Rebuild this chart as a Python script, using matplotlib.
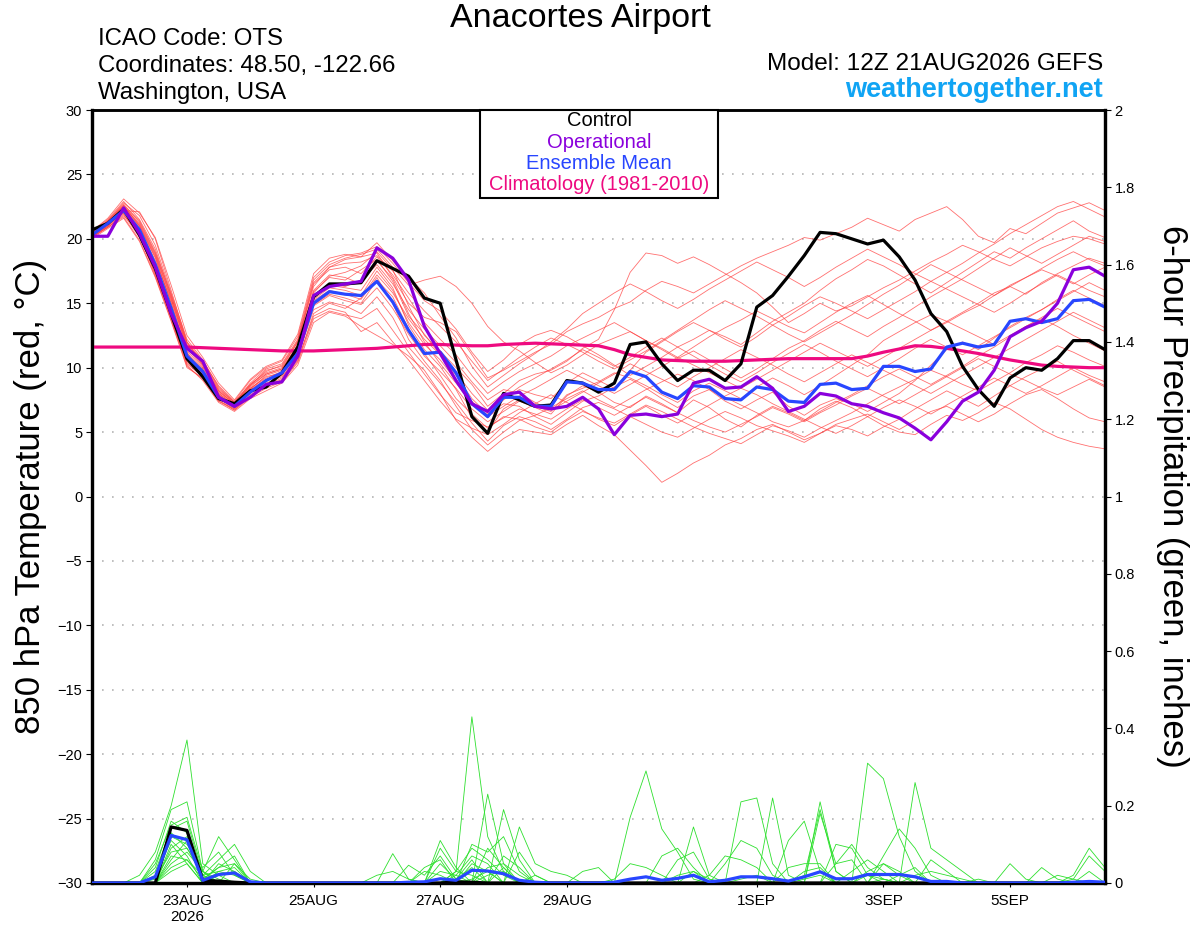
import numpy as np
import matplotlib
matplotlib.use('Agg')
import matplotlib.pyplot as plt
import matplotlib.dates as mdates
from matplotlib.patches import Rectangle

plt.rcParams['font.family'] = ['Liberation Sans', 'DejaVu Sans']

# 6-hourly steps from 12Z 21AUG2026 to 12Z 06SEP2026 (65 steps)
start = np.datetime64('2026-08-21T12:00')
nstep = 65

tick_dates = ['2026-08-23', '2026-08-25', '2026-08-27', '2026-08-29',
              '2026-09-01', '2026-09-03', '2026-09-05']
tick_labels = ['23AUG\n2026', '25AUG', '27AUG', '29AUG', '1SEP', '3SEP', '5SEP']

# 850 hPa temperature (C)
control = [20.7, 21.2, 22.3, 20.3, 17.7, 14.2, 10.7, 9.3, 7.6, 7.2, 8.2, 8.5,
           9.6, 11.6, 15.5, 16.5, 16.5, 16.6, 18.3, 17.7, 17.1, 15.4, 15.0, 10.6,
           6.2, 4.9, 8.0, 7.5, 7.0, 7.1, 9.0, 8.8, 8.1, 8.8, 11.8, 12.0,
           10.3, 9.0, 9.8, 9.8, 9.0, 10.3, 14.7, 15.6, 17.1, 18.7, 20.5, 20.4,
           20.0, 19.6, 19.9, 18.6, 16.8, 14.2, 12.8, 10.1, 8.3, 7.0, 9.2, 10.0,
           9.8, 10.7, 12.1, 12.1, 11.4]
operational = [20.2, 20.2, 22.4, 20.4, 17.8, 14.2, 11.5, 10.5, 7.7, 7.0, 7.7, 8.7,
               8.9, 10.9, 15.6, 16.3, 16.5, 16.7, 19.3, 18.5, 16.8, 13.2, 11.1, 9.0,
               7.2, 6.6, 7.9, 8.1, 7.0, 6.8, 7.0, 7.7, 6.8, 4.8, 6.3, 6.4,
               6.2, 6.4, 8.8, 9.1, 8.4, 8.5, 9.3, 8.4, 6.6, 7.0, 8.0, 7.8,
               7.2, 7.0, 6.5, 6.1, 5.3, 4.4, 5.8, 7.4, 8.1, 9.8, 12.4, 13.1,
               13.6, 15.0, 17.6, 17.8, 17.1]
ens_mean = [20.3, 21.2, 22.2, 20.7, 18.0, 14.6, 10.9, 9.7, 7.7, 7.0, 8.1, 9.0,
            9.6, 11.1, 15.0, 15.9, 15.7, 15.6, 16.7, 15.1, 12.9, 11.1, 11.2, 9.6,
            7.2, 6.2, 7.7, 7.7, 7.0, 7.0, 8.9, 8.8, 8.3, 8.3, 9.7, 9.3,
            8.1, 7.6, 8.6, 8.5, 7.6, 7.5, 8.5, 8.3, 7.4, 7.3, 8.7, 8.8,
            8.3, 8.4, 10.1, 10.1, 9.7, 9.9, 11.6, 11.9, 11.6, 11.8, 13.6, 13.8,
            13.5, 13.8, 15.2, 15.3, 14.7]
climatology = [11.6, 11.6, 11.6, 11.6, 11.6, 11.6, 11.6, 11.55, 11.5, 11.45, 11.4, 11.35,
               11.3, 11.3, 11.3, 11.35, 11.4, 11.45, 11.5, 11.6, 11.7, 11.8, 11.8, 11.75,
               11.7, 11.7, 11.8, 11.85, 11.9, 11.85, 11.8, 11.75, 11.7, 11.4, 11.0, 10.8,
               10.6, 10.55, 10.5, 10.5, 10.5, 10.55, 10.6, 10.65, 10.7, 10.7, 10.7, 10.7,
               10.7, 10.9, 11.2, 11.45, 11.7, 11.65, 11.5, 11.3, 11.1, 10.85, 10.6, 10.4,
               10.2, 10.1, 10.05, 10.0, 10.0]

t_m01 = [20.4, 21.3, 22.6, 21.0, 18.5, 15.0, 11.2, 9.5, 7.6, 6.9, 8.3, 9.4,
         9.8, 11.6, 15.8, 17.1, 17.4, 17.9, 19.0, 17.6, 14.8, 12.5, 11.3, 10.0,
         8.7, 7.0, 8.0, 9.0, 9.5, 9.8, 10.5, 11.5, 12.2, 14.5, 17.4, 18.9,
         18.7, 18.1, 18.6, 18.0, 17.3, 16.6, 15.8, 14.7, 13.5, 14.2, 15.0, 14.4,
         14.8, 15.5, 16.2, 16.8, 17.5, 18.2, 18.8, 19.5, 19.0, 18.4, 17.9, 18.6,
         19.3, 19.8, 20.2, 20.0, 19.6]
t_m02 = [20.1, 21.0, 22.2, 22.1, 20.0, 16.0, 12.0, 10.2, 8.2, 7.2, 8.6, 9.8,
         10.1, 12.0, 16.3, 17.8, 18.4, 18.6, 18.9, 17.0, 15.0, 13.9, 13.5, 12.8,
         11.0, 9.2, 9.8, 10.5, 11.2, 11.8, 12.8, 13.4, 13.9, 14.6, 15.1, 16.0,
         16.7, 16.3, 15.8, 16.5, 17.2, 17.9, 18.5, 19.0, 19.5, 20.1, 19.9, 20.4,
         20.9, 21.6, 21.1, 20.6, 21.5, 22.0, 22.5, 21.5, 20.2, 19.7, 20.8, 20.4,
         21.2, 22.0, 22.4, 22.8, 22.2]
t_m03 = [20.5, 21.1, 22.0, 20.3, 17.2, 13.8, 10.2, 9.0, 7.3, 6.6, 7.6, 8.2,
         8.8, 10.2, 13.5, 14.3, 14.0, 13.2, 12.5, 11.8, 10.9, 9.8, 8.0, 5.9,
         4.6, 3.5, 4.5, 5.2, 5.0, 4.8, 5.6, 6.3, 5.5, 4.8, 3.6, 2.4,
         1.1, 1.8, 2.6, 3.2, 4.0, 4.5, 5.2, 5.6, 5.0, 4.4, 4.9, 5.6,
         6.0, 6.4, 5.8, 5.2, 5.9, 6.6, 7.0, 6.4, 5.8, 6.4, 7.2, 7.9,
         8.3, 7.6, 6.8, 6.1, 5.8]
t_m04 = [20.2, 20.9, 21.8, 20.5, 17.8, 14.4, 10.8, 9.6, 7.8, 7.0, 8.0, 8.8,
         9.3, 10.8, 14.8, 15.6, 15.2, 14.9, 16.2, 14.6, 12.6, 10.9, 9.7, 8.4,
         6.8, 5.8, 6.6, 7.4, 6.9, 6.4, 7.8, 8.6, 8.1, 7.3, 6.9, 7.8,
         7.2, 6.5, 7.5, 6.9, 6.0, 5.4, 6.3, 7.0, 6.5, 5.9, 6.8, 7.4,
         6.9, 6.2, 5.5, 5.0, 4.8, 5.6, 6.3, 5.9, 6.5, 7.3, 6.8, 6.0,
         5.2, 4.6, 4.2, 3.9, 3.7]
t_m05 = [20.6, 21.5, 22.9, 21.5, 19.2, 15.6, 11.8, 10.5, 8.6, 7.4, 9.0, 10.0,
         10.5, 12.4, 17.0, 18.2, 18.7, 18.9, 19.4, 18.1, 16.6, 15.2, 14.4, 13.0,
         11.2, 9.7, 10.6, 11.8, 12.5, 12.9, 12.4, 11.7, 11.0, 10.2, 9.4, 10.1,
         10.8, 11.6, 12.2, 12.9, 12.4, 11.8, 12.7, 13.6, 14.3, 15.0, 16.0, 16.9,
         17.6, 18.4, 17.9, 17.2, 16.5, 15.8, 16.6, 17.4, 18.2, 19.0, 18.5, 19.3,
         20.0, 20.7, 21.4, 20.6, 20.1]
t_m06 = [20.3, 21.2, 22.4, 20.9, 18.3, 15.2, 11.5, 10.1, 8.0, 7.1, 8.4, 9.3,
         9.6, 11.4, 15.5, 16.4, 16.2, 16.0, 17.8, 16.2, 13.3, 11.4, 10.1, 8.3,
         6.1, 5.0, 6.8, 7.5, 7.0, 6.6, 7.9, 8.4, 8.9, 9.6, 9.2, 8.6,
         7.9, 7.3, 8.2, 8.8, 8.2, 7.6, 8.5, 9.2, 8.6, 7.9, 8.6, 9.4,
         10.2, 11.0, 12.1, 12.8, 13.5, 14.1, 13.6, 14.3, 15.0, 15.8, 16.3, 15.7,
         16.6, 17.3, 17.9, 18.5, 18.1]
t_m07 = [20.0, 20.8, 21.6, 19.8, 17.0, 13.6, 10.0, 9.2, 7.4, 6.8, 8.1, 8.7,
         9.0, 10.5, 14.2, 15.0, 14.6, 15.4, 17.2, 15.8, 13.8, 12.2, 11.0, 9.4,
         7.6, 6.4, 7.2, 7.0, 6.2, 5.6, 6.5, 7.4, 7.8, 8.5, 9.1, 8.4,
         7.6, 6.9, 7.8, 8.3, 7.4, 6.8, 7.5, 8.1, 7.0, 6.3, 7.1, 7.6,
         7.2, 6.6, 7.3, 8.0, 9.0, 10.2, 11.4, 12.0, 11.4, 12.3, 13.2, 13.9,
         14.5, 15.3, 16.0, 15.4, 14.8]
t_m08 = [20.4, 21.4, 22.8, 21.8, 19.5, 15.8, 12.2, 10.6, 8.5, 7.3, 8.8, 9.9,
         10.3, 12.2, 16.8, 18.0, 18.5, 18.8, 19.2, 17.8, 16.4, 16.8, 17.1, 16.3,
         15.0, 13.2, 12.0, 11.3, 10.4, 9.6, 10.2, 11.0, 11.8, 12.3, 12.8, 12.1,
         11.5, 10.8, 11.6, 12.4, 13.1, 13.7, 14.4, 13.8, 13.2, 12.7, 13.5, 14.3,
         15.0, 15.6, 14.9, 14.2, 13.6, 12.9, 13.5, 14.2, 14.8, 15.6, 16.4, 17.0,
         17.6, 17.1, 16.5, 17.2, 17.8]
t_m09 = [20.2, 21.0, 22.1, 20.4, 17.5, 14.0, 10.5, 9.4, 7.5, 6.7, 7.9, 8.6,
         9.2, 10.9, 14.5, 15.1, 14.8, 14.2, 15.5, 13.9, 11.6, 10.2, 8.8, 7.3,
         5.7, 4.3, 5.5, 6.2, 5.8, 5.2, 6.0, 6.9, 7.3, 6.8, 6.2, 5.6,
         5.0, 4.6, 5.3, 6.0, 6.6, 6.1, 5.5, 5.1, 4.7, 4.2, 4.9, 5.5,
         5.2, 4.7, 5.4, 6.0, 6.8, 7.5, 8.2, 7.6, 7.0, 7.8, 8.6, 9.3,
         9.9, 10.5, 9.8, 9.2, 8.6]
t_m10 = [20.3, 21.3, 22.5, 21.2, 18.8, 15.4, 11.6, 10.2, 8.1, 7.2, 8.5, 9.5,
         9.9, 11.8, 16.0, 17.2, 17.0, 16.5, 18.3, 16.9, 14.2, 12.0, 10.3, 8.8,
         7.2, 6.1, 7.5, 8.3, 7.9, 7.6, 8.8, 9.6, 9.0, 8.4, 9.8, 11.2,
         12.0, 12.8, 13.5, 12.9, 12.2, 11.6, 12.4, 13.3, 14.0, 14.8, 15.5, 15.0,
         14.4, 13.8, 14.5, 15.2, 15.9, 16.7, 16.1, 15.5, 14.9, 14.3, 15.0, 15.8,
         16.5, 17.2, 16.6, 16.0, 15.5]
t_m11 = [20.1, 20.9, 21.9, 20.1, 17.4, 14.0, 10.3, 9.3, 7.6, 6.9, 8.2, 9.0,
         9.4, 11.0, 14.9, 15.7, 15.4, 15.0, 16.8, 15.5, 13.0, 11.1, 9.4, 7.6,
         6.4, 5.3, 6.2, 6.0, 5.4, 5.0, 5.9, 6.6, 6.1, 5.7, 6.4, 7.1,
         6.6, 6.0, 5.4, 4.9, 4.5, 4.1, 4.8, 5.5, 5.1, 4.6, 5.3, 5.9,
         6.5, 7.2, 7.9, 8.5, 9.1, 9.8, 9.3, 8.7, 8.2, 8.9, 9.6, 10.4,
         11.0, 11.7, 11.2, 10.6, 10.1]
t_m12 = [20.5, 21.4, 22.7, 21.3, 18.9, 15.5, 11.9, 10.4, 8.3, 7.3, 8.7, 9.6,
         10.0, 12.0, 16.5, 17.6, 17.8, 17.3, 18.6, 17.2, 15.4, 13.5, 12.2, 11.0,
         9.4, 8.0, 8.9, 9.7, 10.3, 10.9, 11.7, 12.3, 12.9, 13.5, 12.8, 12.1,
         11.4, 10.7, 11.3, 10.6, 9.9, 9.2, 9.9, 10.7, 11.5, 12.1, 12.9, 13.6,
         13.0, 12.4, 13.2, 13.9, 14.7, 15.5, 16.2, 16.9, 17.7, 18.5, 19.3, 18.7,
         18.1, 18.8, 19.5, 20.2, 19.8]
t_m13 = [20.2, 21.1, 22.3, 20.6, 17.9, 14.6, 11.0, 9.8, 7.9, 7.0, 8.2, 9.1,
         9.5, 11.2, 15.2, 16.0, 15.7, 15.3, 17.0, 15.0, 12.2, 10.5, 9.0, 7.0,
         5.2, 4.0, 5.0, 5.9, 6.3, 6.9, 7.6, 8.2, 7.5, 6.9, 7.6, 8.3,
         8.9, 9.5, 9.0, 8.3, 7.7, 7.1, 6.5, 5.8, 5.4, 5.9, 6.6, 7.3,
         7.9, 8.6, 9.3, 9.9, 9.3, 8.7, 9.4, 10.1, 10.9, 11.6, 12.4, 13.2,
         13.8, 13.2, 12.5, 11.9, 11.3]
t_m14 = [20.4, 21.2, 22.4, 21.0, 18.6, 15.0, 11.3, 10.0, 8.0, 7.1, 8.4, 9.2,
         9.7, 11.4, 15.6, 16.5, 16.3, 16.8, 18.0, 16.5, 14.5, 13.0, 11.7, 10.4,
         8.9, 7.5, 8.3, 8.0, 7.3, 6.7, 7.4, 8.1, 8.8, 9.5, 10.3, 9.7,
         9.1, 8.5, 9.3, 10.0, 10.7, 11.4, 10.8, 10.2, 9.5, 8.9, 9.6, 10.3,
         11.0, 10.4, 9.8, 9.2, 8.6, 8.0, 8.7, 9.4, 10.1, 10.8, 11.5, 12.2,
         12.9, 13.6, 14.3, 13.7, 13.1]
t_m15 = [20.3, 21.0, 22.0, 20.2, 17.3, 13.9, 10.4, 9.3, 7.6, 6.8, 7.8, 8.5,
         9.1, 10.6, 14.0, 14.6, 14.3, 12.8, 13.5, 12.0, 10.6, 9.0, 7.4, 6.0,
         5.3, 4.8, 5.6, 6.5, 7.2, 7.9, 7.3, 6.7, 6.0, 5.5, 6.3, 7.0,
         6.3, 5.7, 6.4, 7.1, 7.8, 8.4, 7.9, 7.2, 6.6, 6.0, 5.4, 4.9,
         5.5, 6.2, 6.9, 7.5, 7.0, 6.4, 7.1, 7.8, 8.5, 9.2, 8.6, 8.0,
         8.6, 9.3, 10.0, 9.4, 8.9]
t_m16 = [20.6, 21.6, 23.1, 22.0, 20.1, 16.4, 12.5, 10.8, 8.8, 7.5, 9.1, 10.1,
         10.6, 12.6, 17.3, 18.5, 18.8, 18.6, 19.7, 18.3, 17.0, 15.8, 14.0, 12.3,
         10.1, 8.5, 9.4, 10.3, 11.1, 12.0, 13.0, 14.2, 15.0, 15.8, 16.5, 15.9,
         15.2, 14.6, 15.3, 16.1, 16.8, 17.5, 18.2, 17.6, 17.0, 16.3, 17.0, 17.8,
         18.5, 19.2, 18.6, 18.0, 17.3, 16.7, 17.4, 18.1, 18.9, 19.6, 20.4, 21.1,
         21.8, 22.5, 22.9, 22.3, 21.7]
t_m17 = [20.2, 21.1, 22.2, 20.7, 18.0, 14.7, 11.1, 9.9, 7.9, 7.0, 8.3, 9.1,
         9.5, 11.3, 15.3, 16.2, 16.0, 15.6, 17.5, 16.0, 13.5, 11.8, 10.6, 9.0,
         7.4, 6.2, 7.0, 7.8, 8.4, 9.1, 9.8, 9.2, 8.6, 8.0, 8.7, 9.4,
         10.1, 10.8, 10.2, 9.6, 9.0, 8.4, 9.1, 9.8, 10.5, 11.2, 11.9, 11.3,
         10.7, 10.1, 10.8, 11.5, 12.2, 12.9, 13.6, 13.0, 12.4, 11.8, 12.5, 13.2,
         13.9, 14.6, 14.0, 13.4, 12.8]
t_m18 = [20.4, 21.3, 22.5, 21.1, 18.7, 15.3, 11.7, 10.3, 8.2, 7.2, 8.6, 9.5,
         9.9, 11.7, 15.9, 17.0, 16.8, 17.6, 18.4, 16.7, 14.0, 12.6, 11.0, 9.6,
         8.0, 6.7, 7.6, 8.5, 9.2, 9.9, 10.6, 11.4, 10.8, 10.1, 10.8, 11.6,
         12.3, 11.6, 10.9, 10.2, 9.5, 8.9, 9.6, 10.4, 11.1, 11.8, 11.2, 10.5,
         9.9, 9.3, 10.0, 10.7, 11.5, 12.2, 11.6, 11.0, 11.7, 12.4, 13.1, 13.8,
         14.5, 15.2, 15.9, 16.6, 16.0]
t_m19 = [20.1, 20.9, 21.7, 19.9, 17.1, 13.7, 10.1, 9.1, 7.4, 6.7, 7.7, 8.4,
         8.9, 10.4, 13.8, 14.4, 14.1, 13.8, 14.6, 12.9, 11.2, 9.5, 7.9, 6.5,
         5.9, 5.4, 6.1, 6.8, 6.4, 6.0, 6.8, 7.5, 6.9, 6.3, 7.0, 7.7,
         7.1, 6.5, 5.9, 5.4, 5.0, 5.6, 6.2, 6.9, 6.4, 5.8, 6.5, 7.1,
         7.8, 8.4, 7.8, 7.2, 7.9, 8.6, 9.3, 10.0, 10.7, 10.1, 9.5, 9.0,
         8.4, 7.9, 8.5, 9.1, 8.5]
t_m20 = [20.5, 21.4, 22.6, 21.4, 19.0, 15.7, 12.0, 10.5, 8.4, 7.3, 8.7, 9.7,
         10.2, 12.1, 16.6, 17.8, 18.1, 18.2, 18.7, 17.5, 15.8, 14.4, 13.2, 12.0,
         10.5, 9.0, 9.9, 10.8, 11.6, 12.3, 11.8, 11.2, 10.5, 9.9, 10.6, 11.3,
         12.1, 12.9, 13.7, 14.5, 15.2, 14.6, 14.0, 13.3, 12.6, 12.0, 12.7, 13.4,
         14.1, 14.9, 15.7, 16.4, 17.2, 18.0, 17.4, 16.8, 16.2, 15.6, 16.3, 17.0,
         17.7, 18.4, 19.0, 18.4, 17.9]
temp_members = [t_m01, t_m02, t_m03, t_m04, t_m05, t_m06, t_m07, t_m08, t_m09, t_m10,
                t_m11, t_m12, t_m13, t_m14, t_m15, t_m16, t_m17, t_m18, t_m19, t_m20]

# 6-hour precipitation (inches), {step index: amount}, zero elsewhere
p_control = {5: 0.145, 6: 0.136, 7: 0.007, 8: 0.005, 9: 0.002, 23: 0.003, 24: 0.002}
p_mean = {4: 0.016, 5: 0.123, 6: 0.112, 7: 0.007, 8: 0.022, 9: 0.026, 10: 0.003,
          20: 0.002, 21: 0.003, 22: 0.011, 23: 0.007, 24: 0.033, 25: 0.031, 26: 0.024,
          27: 0.007, 28: 0.002, 33: 0.002, 34: 0.010, 35: 0.016, 36: 0.007, 37: 0.012,
          38: 0.020, 39: 0.003, 40: 0.007, 41: 0.016, 42: 0.016, 43: 0.011, 44: 0.005,
          45: 0.016, 46: 0.029, 47: 0.011, 48: 0.011, 49: 0.022, 50: 0.022, 51: 0.022,
          52: 0.016, 53: 0.004, 54: 0.004, 62: 0.002, 63: 0.004, 64: 0.002}
p_m01 = {3: 0.02, 4: 0.08, 5: 0.20, 6: 0.37, 7: 0.05, 8: 0.02, 23: 0.03, 24: 0.43,
         25: 0.12, 26: 0.03, 34: 0.17, 35: 0.29, 36: 0.14, 37: 0.08, 38: 0.01}
p_m02 = {4: 0.06, 5: 0.19, 6: 0.21, 7: 0.03, 8: 0.12, 9: 0.06, 22: 0.11, 23: 0.04,
         25: 0.23, 26: 0.05, 41: 0.21, 42: 0.22, 43: 0.05, 49: 0.31, 50: 0.27,
         51: 0.12, 52: 0.03}
p_m03 = {4: 0.03, 5: 0.14, 6: 0.16, 7: 0.02, 8: 0.06, 9: 0.10, 10: 0.03, 19: 0.076,
         20: 0.01, 26: 0.19, 27: 0.06, 44: 0.11, 45: 0.16, 46: 0.03, 52: 0.26,
         53: 0.09, 54: 0.06, 55: 0.03}
p_m04 = {5: 0.12, 6: 0.10, 7: 0.04, 8: 0.08, 9: 0.02, 20: 0.046, 21: 0.02, 22: 0.07,
         23: 0.01, 27: 0.145, 28: 0.05, 29: 0.03, 30: 0.02, 38: 0.145, 39: 0.02,
         46: 0.21, 47: 0.03}
p_m05 = {5: 0.09, 6: 0.12, 7: 0.01, 8: 0.04, 9: 0.07, 22: 0.09, 23: 0.03, 24: 0.09,
         25: 0.06, 26: 0.02, 43: 0.22, 44: 0.02, 50: 0.07, 51: 0.14, 52: 0.09, 53: 0.02}
p_m06 = {4: 0.01, 5: 0.08, 6: 0.09, 7: 0.03, 21: 0.04, 22: 0.06, 24: 0.10, 25: 0.08,
         26: 0.12, 27: 0.03, 36: 0.07, 37: 0.09, 38: 0.04, 47: 0.10, 48: 0.09,
         49: 0.02, 58: 0.05, 59: 0.01}
p_m07 = {5: 0.07, 6: 0.06, 7: 0.02, 8: 0.03, 9: 0.04, 23: 0.02, 24: 0.07, 25: 0.05,
         28: 0.02, 31: 0.03, 32: 0.04, 37: 0.06, 38: 0.08, 39: 0.01, 46: 0.18,
         47: 0.05, 48: 0.06, 62: 0.02, 63: 0.09, 64: 0.04}
p_m08 = {4: 0.02, 5: 0.11, 6: 0.07, 8: 0.05, 9: 0.03, 25: 0.09, 26: 0.04, 40: 0.05,
         41: 0.11, 42: 0.09, 43: 0.02, 50: 0.05, 51: 0.03, 61: 0.02, 62: 0.01,
         63: 0.07, 64: 0.03}
p_m09 = {5: 0.05, 6: 0.08, 7: 0.03, 9: 0.05, 23: 0.03, 24: 0.02, 26: 0.07, 27: 0.04,
         44: 0.04, 45: 0.05, 46: 0.05, 48: 0.03, 49: 0.06, 50: 0.03, 53: 0.06,
         54: 0.03, 60: 0.04, 61: 0.01}
p_m10 = {4: 0.04, 5: 0.16, 6: 0.13, 7: 0.01, 22: 0.05, 23: 0.01, 24: 0.06, 39: 0.02,
         40: 0.07, 41: 0.06, 42: 0.04, 45: 0.02, 46: 0.19, 47: 0.03, 52: 0.02,
         53: 0.03, 54: 0.02, 55: 0.01}
p_m11 = {5: 0.10, 6: 0.05, 8: 0.02, 9: 0.03, 18: 0.02, 19: 0.03, 20: 0.01, 25: 0.04,
         26: 0.05, 27: 0.02, 45: 0.03, 46: 0.04, 49: 0.03, 50: 0.05, 51: 0.02, 62: 0.01}
p_m12 = {5: 0.06, 6: 0.11, 7: 0.02, 24: 0.05, 25: 0.03, 33: 0.01, 34: 0.05, 35: 0.04,
         36: 0.02, 47: 0.05, 48: 0.10, 49: 0.04, 50: 0.01}
p_m13 = {5: 0.04, 6: 0.06, 7: 0.01, 8: 0.04, 9: 0.05, 10: 0.01, 21: 0.03, 22: 0.02,
         25: 0.02, 26: 0.03, 41: 0.01, 42: 0.02, 51: 0.02, 52: 0.04}
p_m14 = {5: 0.13, 6: 0.09, 7: 0.02, 23: 0.01, 24: 0.04, 27: 0.08, 28: 0.02, 38: 0.03,
         39: 0.01, 56: 0.01}
p_m15 = {4: 0.05, 5: 0.15, 6: 0.17, 7: 0.03, 8: 0.01, 22: 0.03, 23: 0.02, 26: 0.04,
         45: 0.01, 46: 0.02, 50: 0.01}
p_m16 = {5: 0.03, 6: 0.05, 8: 0.03, 9: 0.02, 24: 0.01, 25: 0.03, 37: 0.02, 38: 0.03,
         49: 0.02, 50: 0.01, 63: 0.03}
prcp_members = [p_m01, p_m02, p_m03, p_m04, p_m05, p_m06, p_m07, p_m08,
                p_m09, p_m10, p_m11, p_m12, p_m13, p_m14, p_m15, p_m16]


def dense(sparse):
    out = np.zeros(nstep)
    for k, v in sparse.items():
        out[k] = v
    return out


W, H = 1200, 927
times = start + np.arange(nstep) * np.timedelta64(6, 'h')
tx = mdates.date2num(times.astype('datetime64[s]').astype(object))

fig = plt.figure(figsize=(W / 100, H / 100), dpi=100)
ax = fig.add_axes([92 / W, 1 - 883 / H, (1105 - 92) / W, (883 - 110) / H])
ax2 = ax.twinx()

c_red = '#ff4040'
c_green = '#2ee02e'
c_oper = '#8a00dc'
c_mean = '#2846ff'
c_clim = '#ee0a80'

for m in temp_members:
    ax.plot(tx, m, color=c_red, lw=0.6, alpha=0.75, zorder=2)
ax.plot(tx, climatology, color=c_clim, lw=2.3, zorder=3)
ax.plot(tx, control, color='black', lw=2.3, zorder=4)
ax.plot(tx, ens_mean, color=c_mean, lw=2.3, zorder=5)
ax.plot(tx, operational, color=c_oper, lw=2.3, zorder=6)

for p in prcp_members:
    ax2.plot(tx, dense(p), color=c_green, lw=0.6, zorder=2)
ax2.plot(tx, dense(p_control), color='black', lw=2.3, zorder=4)
ax2.plot(tx, dense(p_mean), color=c_mean, lw=2.3, zorder=5)

ax.set_xlim(tx[0], tx[-1])
ax.set_ylim(-30, 30)
ax2.set_ylim(0, 2)
ax.set_yticks(np.arange(-30, 31, 5))
ax2.set_yticks(np.arange(0, 2.01, 0.2))
ax2.set_yticklabels(['%g' % round(v, 1) for v in np.arange(0, 2.01, 0.2)])
ax.set_xticks(mdates.date2num(np.array(tick_dates, dtype='datetime64[s]').astype(object)))
ax.set_xticklabels(tick_labels)

for a in (ax, ax2):
    for s in a.spines.values():
        s.set_linewidth(2.3)
    a.spines['top'].set_linewidth(1.8)
ax.tick_params(axis='x', length=3, width=0.8, pad=5, labelsize=11)
ax.tick_params(axis='y', length=4, width=0.8, labelsize=10.5, pad=3)
ax2.tick_params(axis='y', length=4, width=0.8, labelsize=10.5, pad=3)

ax.yaxis.grid(True, color='#b4b4b4', linestyle=(0, (1, 5)), lw=1.2)
ax.set_axisbelow(True)

ax.set_ylabel('850 hPa Temperature (red, \u00b0C)', fontsize=25)
ax.yaxis.set_label_coords((47 - 92) / 1013, 0.5)
ax2.set_ylabel('6-hour Precipitation (green, inches)', fontsize=25, rotation=270,
               va='center')
ax2.yaxis.set_label_coords((1172 - 92) / 1013, 0.5)


def fx(x):
    return x / W


def fy(y):
    return 1 - y / H


fig.text(fx(580), fy(18), 'Anacortes Airport', ha='center', va='center', fontsize=24.5)
fig.text(fx(98), fy(39), 'ICAO Code: OTS', ha='left', va='center', fontsize=17.3)
fig.text(fx(98), fy(66), 'Coordinates: 48.50, -122.66', ha='left', va='center', fontsize=17.3)
fig.text(fx(98), fy(93), 'Washington, USA', ha='left', va='center', fontsize=17.3)
fig.text(fx(1103), fy(64), 'Model: 12Z 21AUG2026 GEFS', ha='right', va='center', fontsize=17.6)
fig.text(fx(1103), fy(90), 'weathertogether.net', ha='right', va='center', fontsize=19.5,
         fontweight='bold', color='#10a4f4')

box = Rectangle((fx(480), fy(198)), fx(718) - fx(480), fy(110) - fy(198),
                transform=fig.transFigure, facecolor='white', edgecolor='black',
                lw=1.5, zorder=10)
fig.patches.append(box)
legend_items = [('Control', 'black'), ('Operational', c_oper),
                ('Ensemble Mean', c_mean), ('Climatology (1981-2010)', c_clim)]
for k, (label, col) in enumerate(legend_items):
    fig.text(fx(599), fy(121 + 21.3 * k), label, ha='center', va='center',
             fontsize=14.5, color=col, zorder=11)

fig.savefig('out.png', dpi=100)
